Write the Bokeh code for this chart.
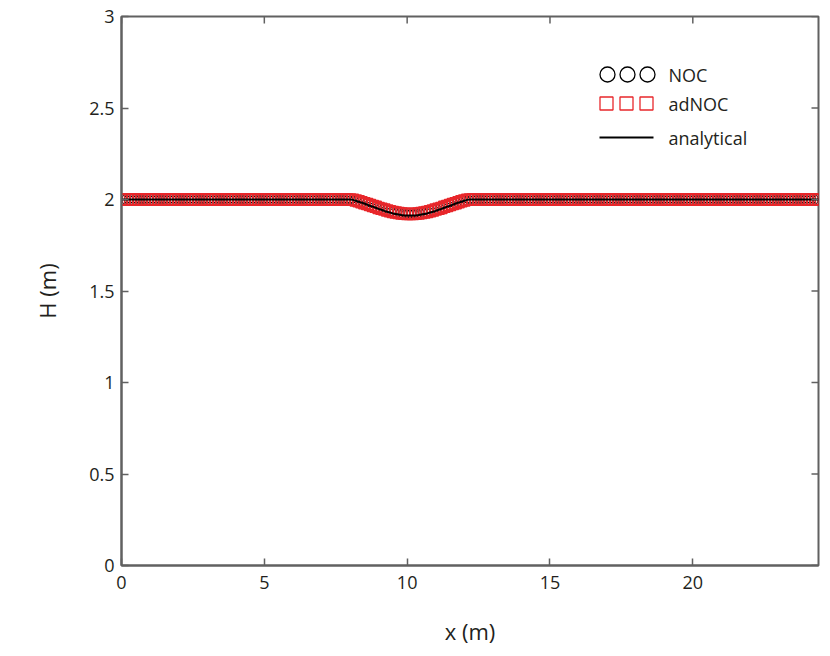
import numpy as np
from bokeh.plotting import figure
from bokeh.models import FixedTicker, Range1d, BoxAnnotation, Label
from bokeh.embed import file_html
from bokeh.resources import INLINE

# ---------------- data ----------------
x_step = 0.1
n_points = 245                      # x = 0.0 ... 24.4 m
x = np.round(np.arange(n_points) * x_step, 1)

n_left_flat = 80                    # x = 0.0 ... 7.9
n_right_flat = 122                  # x = 12.3 ... 24.4
H_flat = 2.0

# H over the bump, x = 8.0 ... 12.2 (step 0.1)
dip_noc = [2.000, 1.998, 1.994, 1.990, 1.985, 1.980, 1.975, 1.970, 1.965, 1.960,
           1.954, 1.949, 1.945, 1.940, 1.936, 1.932, 1.929, 1.926, 1.924, 1.922,
           1.921, 1.921, 1.921,
           1.922, 1.924, 1.926, 1.929, 1.932, 1.936, 1.940, 1.945, 1.949, 1.954,
           1.960, 1.965, 1.970, 1.975, 1.980, 1.985, 1.990, 1.994, 1.998, 2.000]
dip_adnoc = [2.000, 1.998, 1.994, 1.990, 1.985, 1.980, 1.975, 1.970, 1.965, 1.960,
             1.954, 1.949, 1.945, 1.940, 1.936, 1.932, 1.929, 1.926, 1.924, 1.922,
             1.921, 1.921, 1.921,
             1.922, 1.924, 1.926, 1.929, 1.932, 1.936, 1.940, 1.945, 1.949, 1.954,
             1.960, 1.965, 1.970, 1.975, 1.980, 1.985, 1.990, 1.994, 1.998, 2.000]
dip_analytical = [2.000, 1.998, 1.993, 1.988, 1.983, 1.978, 1.972, 1.966, 1.961, 1.955,
                  1.949, 1.944, 1.938, 1.933, 1.929, 1.924, 1.921, 1.918, 1.915, 1.913,
                  1.912, 1.912, 1.912,
                  1.913, 1.915, 1.918, 1.921, 1.924, 1.929, 1.933, 1.938, 1.944, 1.949,
                  1.955, 1.961, 1.966, 1.972, 1.978, 1.983, 1.988, 1.993, 1.998, 2.000]

H_noc = [H_flat] * n_left_flat + dip_noc + [H_flat] * n_right_flat
H_adnoc = [H_flat] * n_left_flat + dip_adnoc + [H_flat] * n_right_flat
H_analytical = [H_flat] * n_left_flat + dip_analytical + [H_flat] * n_right_flat

x_ticks = [0, 5, 10, 15, 20]
y_ticks = [0, 0.5, 1, 1.5, 2, 2.5, 3]
y_tick_labels = ["0", "0.5", "1", "1.5", "2", "2.5", "3"]
series_labels = ["NOC", "adNOC", "analytical"]
x_title = "x (m)"
y_title = "H (m)"

# ---------------- style ----------------
FONT = "Open Sans"
TXT = "#231f20"
AX = "#616161"
RED = "#e8272b"

W, H = 822, 648
B_LEFT, B_RIGHT, B_TOP, B_BOTTOM = 121, 4, 16, 83
FRAME_W = W - B_LEFT - B_RIGHT
FRAME_H = H - B_TOP - B_BOTTOM
TICK = 7

p = figure(width=W, height=H, output_backend="svg", toolbar_location=None,
           x_range=Range1d(0, 24.4), y_range=Range1d(0, 3),
           min_border_left=B_LEFT, min_border_right=B_RIGHT,
           min_border_top=B_TOP, min_border_bottom=B_BOTTOM)
p.background_fill_color = "white"
p.border_fill_color = "white"
p.outline_line_color = AX
p.outline_line_width = 2
p.xgrid.visible = False
p.ygrid.visible = False

p.scatter(x, H_noc, marker="circle", size=11, fill_color=None,
          line_color="black", line_width=1)
p.scatter(x, H_adnoc, marker="square", size=11, fill_color=None,
          line_color=RED, line_width=1.5)
p.line(x, H_analytical, line_color="black", line_width=2)

for ax in (p.xaxis[0], p.yaxis[0]):
    ax.major_tick_in = TICK
    ax.major_tick_out = 0
    ax.minor_tick_line_color = None
    ax.axis_line_color = AX
    ax.axis_line_width = 2
    ax.major_tick_line_color = AX
    ax.major_tick_line_width = 1.5
    ax.major_label_text_font = FONT
    ax.major_label_text_font_size = "18px"
    ax.major_label_text_color = TXT
    ax.axis_label_text_font = FONT
    ax.axis_label_text_font_size = "22px"
    ax.axis_label_text_font_style = "normal"
    ax.axis_label_text_color = TXT

p.xaxis[0].ticker = FixedTicker(ticks=x_ticks)
p.yaxis[0].ticker = FixedTicker(ticks=y_ticks)
p.yaxis[0].major_label_overrides = {t: l for t, l in zip(y_ticks, y_tick_labels)}
p.xaxis[0].axis_label = x_title
p.yaxis[0].axis_label = y_title
p.xaxis[0].major_label_standoff = 10
p.yaxis[0].major_label_standoff = 7
p.xaxis[0].axis_label_standoff = 24
p.yaxis[0].axis_label_standoff = 24

# mirrored inward ticks on the top and right frame edges
for t in x_ticks:
    p.add_layout(BoxAnnotation(left=t, right=t, bottom=FRAME_H - TICK, top=FRAME_H,
                               bottom_units="screen", top_units="screen",
                               fill_color=None, line_color=AX, line_alpha=1,
                               line_width=1.5))
for t in y_ticks:
    p.add_layout(BoxAnnotation(bottom=t, top=t, left=FRAME_W - TICK, right=FRAME_W,
                               left_units="screen", right_units="screen",
                               fill_color=None, line_color=AX, line_alpha=1,
                               line_width=1.5))

# ---------------- legend (screen units, relative to plot frame) ----------------
leg_x0 = 485          # centre of first legend marker
leg_dx = 20           # spacing of legend markers
leg_rows = [491, 462, 428]
leg_text_x = 547

for i in range(3):
    cx = leg_x0 + 1 + i * leg_dx
    r = 7.5
    p.add_layout(BoxAnnotation(left=cx - r, right=cx + r, bottom=leg_rows[0] - r,
                               top=leg_rows[0] + r, left_units="screen",
                               right_units="screen", top_units="screen",
                               bottom_units="screen", fill_color=None,
                               line_color="black", line_alpha=1, line_width=1.3,
                               border_radius=8, level="overlay"))
for i in range(3):
    cx = leg_x0 + i * leg_dx
    r = 6.5
    p.add_layout(BoxAnnotation(left=cx - r, right=cx + r, bottom=leg_rows[1] - r,
                               top=leg_rows[1] + r, left_units="screen",
                               right_units="screen", top_units="screen",
                               bottom_units="screen", fill_color=None,
                               line_color=RED, line_alpha=1, line_width=1.3,
                               level="overlay"))
p.add_layout(BoxAnnotation(left=leg_x0 - 7, right=leg_x0 + 2 * leg_dx + 7,
                           bottom=leg_rows[2] - 1, top=leg_rows[2] + 1,
                           left_units="screen", right_units="screen",
                           top_units="screen", bottom_units="screen",
                           fill_color="black", fill_alpha=1, line_color=None,
                           level="overlay"))
for row, lab in zip(leg_rows, series_labels):
    p.add_layout(Label(x=leg_text_x, y=row, x_units="screen", y_units="screen",
                       text=lab, text_font=FONT, text_font_size="18px",
                       text_color=TXT, text_baseline="middle", text_align="left"))

open("out.html", "w").write(file_html(p, INLINE))
